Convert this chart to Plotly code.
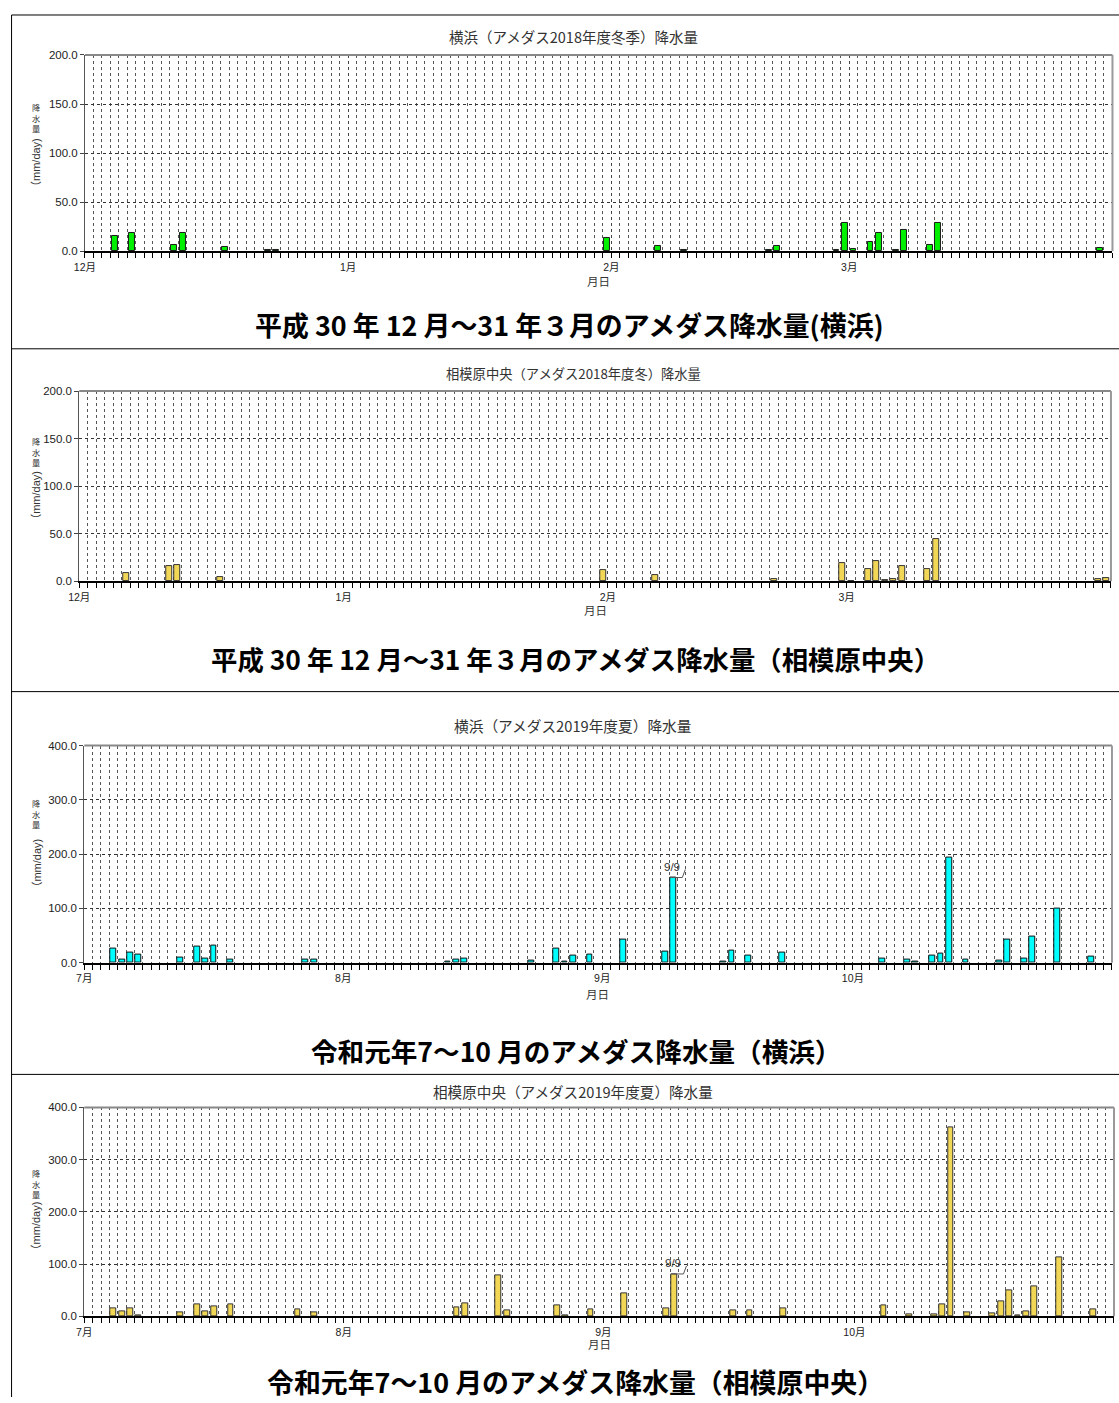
import plotly.graph_objects as go

W, H = 1119, 1403

# ---------------- data ----------------
# 横浜 2018年度冬季 (mm/day); days not listed = 0
yw_dates = ["2018-12-04", "2018-12-06", "2018-12-11", "2018-12-12", "2018-12-17", "2018-12-22",
            "2018-12-23", "2019-01-31", "2019-02-06", "2019-02-09", "2019-02-19", "2019-02-20",
            "2019-02-27", "2019-02-28", "2019-03-01", "2019-03-03", "2019-03-04", "2019-03-06",
            "2019-03-07", "2019-03-10", "2019-03-11", "2019-03-30"]
yw_vals = [15.5, 18.5, 6, 19, 4, 1, 1.5, 13.5, 5, 1.5, 1, 5, 1, 29, 2, 9.5, 19, 1, 21.5, 6.5, 28.5, 3]

# 相模原中央 2018年度冬
sw_dates = ["2018-12-06", "2018-12-11", "2018-12-12", "2018-12-17", "2019-01-31", "2019-02-06",
            "2019-02-20", "2019-02-28", "2019-03-01", "2019-03-03", "2019-03-04", "2019-03-05",
            "2019-03-06", "2019-03-07", "2019-03-10", "2019-03-11", "2019-03-30", "2019-03-31"]
sw_vals = [8, 16, 17, 4.5, 11.5, 6, 2, 19, 0.5, 13, 21, 0.7, 1.8, 16, 13, 44, 1.8, 3]

# 横浜 2019年度夏
ys_dates = ["2019-07-04", "2019-07-05", "2019-07-06", "2019-07-07", "2019-07-12", "2019-07-14",
            "2019-07-15", "2019-07-16", "2019-07-18", "2019-07-27", "2019-07-28", "2019-08-13",
            "2019-08-14", "2019-08-15", "2019-08-23", "2019-08-26", "2019-08-27", "2019-08-28",
            "2019-08-30", "2019-09-03", "2019-09-08", "2019-09-09", "2019-09-15", "2019-09-16",
            "2019-09-18", "2019-09-22", "2019-10-04", "2019-10-07", "2019-10-08", "2019-10-10",
            "2019-10-11", "2019-10-12", "2019-10-14", "2019-10-18", "2019-10-19", "2019-10-21",
            "2019-10-22", "2019-10-25", "2019-10-29"]
ys_vals = [27, 6, 18.5, 15, 9.5, 29, 8, 32, 6, 6, 5, 2, 5.5, 8.5, 3.5, 26, 2, 13.5, 15.5, 42, 20,
           157, 2, 23, 14, 18, 7.5, 5.5, 2, 12.5, 16, 193, 5.5, 3.5, 42, 8.5, 47.5, 99.5, 10.5]

# 相模原中央 2019年度夏
ss_dates = ["2019-07-04", "2019-07-05", "2019-07-06", "2019-07-07", "2019-07-12", "2019-07-14",
            "2019-07-15", "2019-07-16", "2019-07-18", "2019-07-26", "2019-07-28", "2019-08-14",
            "2019-08-15", "2019-08-19", "2019-08-20", "2019-08-26", "2019-08-27", "2019-08-30",
            "2019-09-03", "2019-09-08", "2019-09-09", "2019-09-16", "2019-09-18", "2019-09-22",
            "2019-10-04", "2019-10-07", "2019-10-10", "2019-10-11", "2019-10-12", "2019-10-14",
            "2019-10-17", "2019-10-18", "2019-10-19", "2019-10-20", "2019-10-21", "2019-10-22",
            "2019-10-25", "2019-10-29"]
ss_vals = [15.5, 8.5, 15.5, 2.5, 6.5, 23.5, 9.5, 18.5, 23.5, 13.5, 6.5, 17.5, 24, 78, 10.5, 20.5,
           1, 12.5, 43, 15.5, 81, 10.5, 10.5, 15, 20, 3.5, 3, 23.5, 361, 7, 5, 29, 49.5, 1, 8.5,
           57, 113.5, 13.5]

winter_ticks = ["2018-12-01", "2019-01-01", "2019-02-01", "2019-03-01"]
winter_labels = ["12月", "1月", "2月", "3月"]
summer_ticks = ["2019-07-01", "2019-08-01", "2019-09-01", "2019-10-01"]
summer_labels = ["7月", "8月", "9月", "10月"]

titles = ["横浜（アメダス2018年度冬季）降水量", "相模原中央（アメダス2018年度冬）降水量",
          "横浜（アメダス2019年度夏）降水量", "相模原中央（アメダス2019年度夏）降水量"]
captions = ["平成 30 年 12 月～31 年３月のアメダス降水量(横浜)",
            "平成 30 年 12 月～31 年３月のアメダス降水量（相模原中央）",
            "令和元年7～10 月のアメダス降水量（横浜）",
            "令和元年7～10 月のアメダス降水量（相模原中央）"]
ytitle_jp = "降水量"
ytitle_unit = "（mm/day)"
mark_date = "2019-09-09"
mark_text = "9/9"

YELLOW = "#F2D756"
panels = [
    dict(d=yw_dates, v=yw_vals, color="#00F000", lc="#1a1a1a", rng=["2018-12-01", "2019-04-01"],
         tv=winter_ticks, tt=winter_labels, ymax=200, dy=50,
         box=(86.7, 53, 1110.5, 249.3), ty=35, ts=14.5, xt=(598, 279), yl=(116, 163),
         cap=(569, 323, 26.9), mark=False),
    dict(d=sw_dates, v=sw_vals, color=YELLOW, lc="#333333", rng=["2018-12-01", "2019-04-01"],
         tv=winter_ticks, tt=winter_labels, ymax=200, dy=50,
         box=(81, 389.3, 1109, 579.5), ty=372, ts=13.3, xt=(595, 608), yl=(450, 496),
         cap=(575, 657, 26.4), mark=False),
    dict(d=ys_dates, v=ys_vals, color="#00FFFF", lc="#111111", rng=["2019-07-01", "2019-11-01"],
         tv=summer_ticks, tt=summer_labels, ymax=400, dy=100,
         box=(86, 744, 1110, 961.3), ty=724, ts=14.7, xt=(597, 993), yl=(812, 864),
         cap=(575.5, 1049, 26.6), mark=True),
    dict(d=ss_dates, v=ss_vals, color=YELLOW, lc="#333333", rng=["2019-07-01", "2019-11-01"],
         tv=summer_ticks, tt=summer_labels, ymax=400, dy=100,
         box=(86, 1106, 1112, 1315), ty=1090, ts=14.6, xt=(599, 1343), yl=(1182, 1227),
         cap=(575.5, 1380, 26.9), mark=True),
]

DAY = 86400000
JP = "Noto Sans CJK JP"
LAT = "Liberation Sans, Noto Sans CJK JP"

# calibration of the photographed page (offset / scale seen in the screenshot)
OX, OY, SX, SY = 13.0, 4.0, 0.9866, 0.992


def px(x):
    return min(max(((x - OX) / SX) / W, 0.0005), 1.0)


def py(y):
    return min(max(1 - ((y - OY) / SY) / H, 0.0), 1.0)


def text_at(txt, x, y, size, family=JP, color="#333", **kw):
    return dict(text=txt, xref="paper", yref="paper", x=px(x), y=py(y), xanchor="center",
                yanchor="middle", showarrow=False, font=dict(family=family, size=size, color=color), **kw)


fig = go.Figure()
annotations = []
shapes = []

for i, p in enumerate(panels):
    n = "" if i == 0 else str(i + 1)
    fig.add_trace(go.Bar(
        x=p["d"], y=p["v"], xperiod=DAY, xperiodalignment="middle", width=0.7 * DAY,
        marker=dict(color=p["color"], line=dict(color=p["lc"], width=1)),
        xaxis="x" + n, yaxis="y" + n, showlegend=False, hoverinfo="x+y"))
    x0, y0, x1, y1 = p["box"]
    fig.layout["xaxis" + n] = dict(
        domain=[px(x0), px(x1)], anchor="y" + n, type="date", range=p["rng"],
        tickmode="array", tickvals=p["tv"], ticktext=p["tt"],
        ticks="outside", ticklen=5, tickcolor="#000", tickwidth=1,
        tickfont=dict(family=LAT, size=10.5, color="#222"),
        showgrid=True, gridcolor="#444", griddash="dot", gridwidth=1,
        showline=True, linecolor="#000", linewidth=2,
        minor=dict(dtick=DAY, tick0=p["rng"][0], ticks="outside", ticklen=5, tickcolor="#000",
                   showgrid=True, gridcolor="#555", griddash="dot", gridwidth=1),
        fixedrange=True)
    fig.layout["yaxis" + n] = dict(
        domain=[py(y1), py(y0)], anchor="x" + n, range=[0, p["ymax"]], dtick=p["dy"],
        tickformat=".1f", ticks="outside", ticklen=4, tickcolor="#444",
        tickfont=dict(family=LAT, size=11.5, color="#222"),
        showgrid=True, gridcolor="#333", griddash="dot", gridwidth=1,
        showline=True, linecolor="#555", linewidth=1, zeroline=False, fixedrange=True)

    shapes.append(dict(type="line", xref="x%s domain" % n, yref="y%s domain" % n,
                       x0=0, x1=1, y0=1, y1=1, line=dict(color="#888", width=2)))
    shapes.append(dict(type="line", xref="x%s domain" % n, yref="y%s domain" % n,
                       x0=1, x1=1, y0=0, y1=1, line=dict(color="#999", width=2)))

    annotations.append(text_at(titles[i], 573, p["ty"], p["ts"]))
    annotations.append(text_at("月日", p["xt"][0], p["xt"][1], 11.5))
    # y-axis title: stacked (vertical writing) + rotated unit
    annotations.append(text_at("<br>".join(ytitle_jp), 38, p["yl"][0], 8.2))
    annotations.append(text_at(ytitle_unit, 38, p["yl"][1], 11, family=LAT, textangle=-90))
    cx, cy, cs = p["cap"]
    annotations.append(text_at("<b>%s</b>" % captions[i], cx, cy, cs, color="#000"))

    if p["mark"]:
        mv = p["v"][p["d"].index(mark_date)]
        mx = mark_date + " 12:00"
        annotations.append(dict(text=mark_text, x=mx, y=mv, xref="x" + n, yref="y" + n,
                                showarrow=False, xanchor="center", yanchor="bottom", yshift=3,
                                xshift=-1, font=dict(family=LAT, size=11.5, color="#333")))
        shapes.append(dict(type="path", xref="x" + n, yref="y" + n, xsizemode="pixel",
                           ysizemode="pixel", xanchor=mx, yanchor=mv,
                           path="M -3,0 L 9,0 L 12,8", line=dict(color="#555", width=1)))

# outer frame lines
shapes.append(dict(type="line", xref="paper", yref="paper", x0=px(10), x1=1, y0=py(13), y1=py(13),
                   line=dict(color="#000", width=1)))
shapes.append(dict(type="line", xref="paper", yref="paper", x0=px(10), x1=px(10), y0=py(13), y1=0,
                   line=dict(color="#000", width=1)))
for sy in (347, 690, 1073):
    shapes.append(dict(type="line", xref="paper", yref="paper", x0=px(10), x1=1, y0=py(sy), y1=py(sy),
                       line=dict(color="#000", width=1)))

fig.update_layout(width=W, height=H, margin=dict(l=0, r=0, t=0, b=0),
                  paper_bgcolor="white", plot_bgcolor="white", bargap=0,
                  annotations=annotations, shapes=shapes, showlegend=False)

fig.write_html("out.html", config={"displayModeBar": False},
               post_script="document.documentElement.style.margin='0';"
                           "document.body.style.margin='0';document.body.style.padding='0';"
                           "document.body.style.overflow='hidden';")
